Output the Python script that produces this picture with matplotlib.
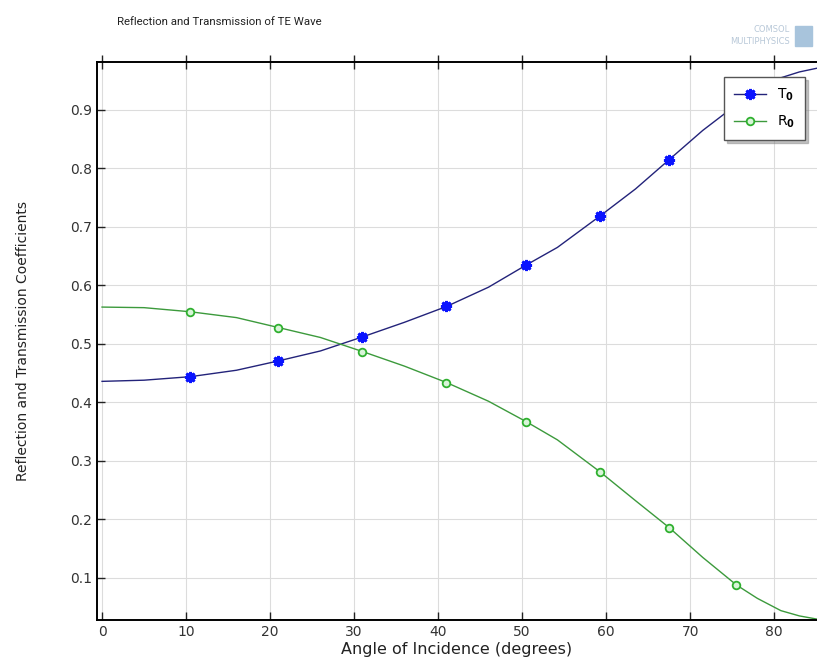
import matplotlib.pyplot as plt
import numpy as np

# angle of incidence (degrees) and coefficients
angle = [0, 5, 10.5, 16, 21, 26, 31, 36, 41, 46, 50.5, 54.2, 59.3, 63.5,
         67.5, 71.5, 75.5, 78, 80.8, 83, 85.3]
T0 = [0.436, 0.438, 0.444, 0.455, 0.471, 0.488, 0.512, 0.537, 0.564, 0.597,
      0.635, 0.665, 0.719, 0.765, 0.815, 0.865, 0.909, 0.935, 0.955, 0.965, 0.972]
R0 = [0.563, 0.562, 0.555, 0.545, 0.528, 0.511, 0.487, 0.462, 0.434, 0.402,
      0.367, 0.336, 0.281, 0.232, 0.186, 0.135, 0.088, 0.065, 0.044, 0.035, 0.029]

# indices where COMSOL put its markers
marks_T = [2, 4, 6, 8, 10, 12, 14, 16]
marks_R = [2, 4, 6, 8, 10, 12, 14, 16]

xticks = [0, 10, 20, 30, 40, 50, 60, 70, 80]
yticks = [0.1, 0.2, 0.3, 0.4, 0.5, 0.6, 0.7, 0.8, 0.9]

fig = plt.figure(figsize=(8.17, 6.69), dpi=100)
ax = fig.add_axes([97/817, 1-620/669, 720/817, 558/669])

ax.plot(angle, T0, color='#23237a', lw=1.0, marker=(8, 2, 0), ms=8,
        mec='#0a14ff', mew=2.0, markevery=marks_T, label='T$_\\mathbf{0}$')
ax.plot(angle, R0, color='#3c9a3c', lw=1.0, marker='o', ms=5.5,
        mec='#2fb02f', mfc='#d8f5d8', mew=1.3, markevery=marks_R,
        label='R$_\\mathbf{0}$')

ax.set_xlim(-0.6, 85.1)
ax.set_ylim(0.028, 0.982)
ax.set_xticks(xticks)
ax.set_yticks(yticks)
ax.grid(True, color='#dcdcdc', lw=0.8)
ax.set_axisbelow(True)

for side in ['left', 'bottom', 'top']:
    ax.spines[side].set_linewidth(1.4)
ax.spines['right'].set_visible(False)
ax.tick_params(direction='in', length=6, width=1.0, labelsize=10,
               colors='#222222', labelcolor='#333333')
ax.tick_params(axis='x', top=True, labeltop=False)
for t in ax.xaxis.get_major_ticks():
    t.tick2line.set_marker('|')
    t.tick2line.set_markersize(10)

ax.set_xlabel('Angle of Incidence (degrees)', fontsize=11.5, labelpad=2,
              color='#222222')
ax.set_ylabel('Reflection and Transmission Coefficients', fontsize=10,
              labelpad=29, color='#222222')

fig.text(117/817, 1-22/669, 'Reflection and Transmission of TE Wave',
         fontsize=8.2, va='center', ha='left', color='#222222', family='Roboto')

# COMSOL logo stand-in
fig.text(790/817, 1-29/669, 'COMSOL', fontsize=6, color='#b8c8d8',
         ha='right', va='center')
fig.text(790/817, 1-41/669, 'MULTIPHYSICS', fontsize=6, color='#b8c8d8',
         ha='right', va='center')
fig.patches.append(plt.Rectangle((795/817, 1-46/669), 17/817, 20/669,
                                 transform=fig.transFigure,
                                 color='#a8c4dc', zorder=1))

leg = ax.legend(loc='upper right', bbox_to_anchor=(0.993, 0.985),
                fontsize=10, fancybox=False, shadow={'color': '#888888'},
                framealpha=1, edgecolor='#555555', handlelength=2.3,
                borderpad=0.7, labelspacing=0.75)
leg.get_frame().set_linewidth(1.0)
leg.set_zorder(5)

fig.savefig('out.png', dpi=100)
